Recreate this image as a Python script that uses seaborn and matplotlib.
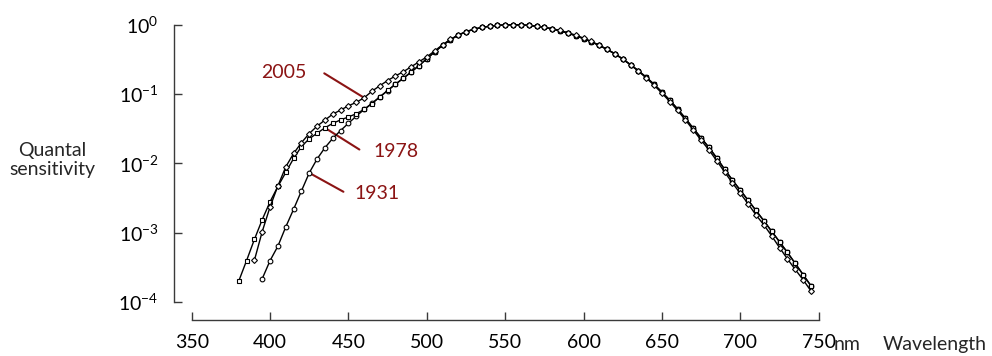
import matplotlib
matplotlib.use("Agg")
import matplotlib.pyplot as plt
import numpy as np
import pandas as pd
import seaborn as sns
from matplotlib.ticker import FixedLocator, NullLocator, FixedFormatter

# ---------------- data ----------------
wl_1931 = list(range(395, 750, 5))
v_1931 = [
    0.000217, 0.000396, 0.00064, 0.00121, 0.00218, 0.004, 0.0073, 0.0116, 0.01684, 0.023,      # 395-440
    0.0298, 0.038, 0.048, 0.06, 0.0739, 0.09098, 0.1126, 0.13902, 0.1693, 0.20802,             # 445-490
    0.2586, 0.323, 0.4073, 0.503, 0.6082, 0.71, 0.7932, 0.862, 0.91485, 0.954,                 # 495-540
    0.9803, 0.99495, 1.0, 0.995, 0.9786, 0.952, 0.9154, 0.87, 0.8163, 0.757,                   # 545-590
    0.6949, 0.631, 0.5668, 0.503, 0.4412, 0.381, 0.321, 0.265, 0.217, 0.175,                   # 595-640
    0.1382, 0.107, 0.0816, 0.061, 0.04458, 0.032, 0.0232, 0.017, 0.01192, 0.00821,             # 645-690
    0.005723, 0.004102, 0.002929, 0.002091, 0.001484, 0.001047, 0.00074, 0.00052, 0.000361, 0.000249,  # 695-740
    0.000172,                                                                                  # 745
]

wl_1978 = list(range(380, 750, 5))
v_1978 = [
    0.0002, 0.00039556, 0.0008, 0.0015457, 0.0028, 0.0046562, 0.0074, 0.011779, 0.0175, 0.022678,   # 380-425
    0.0273, 0.032584, 0.0379, 0.042391, 0.0468, 0.052122, 0.06, 0.072942, 0.09098, 0.11284,          # 430-475
    0.13902, 0.1693, 0.20802, 0.2586, 0.323, 0.4073, 0.503, 0.6082, 0.71, 0.7932,                    # 480-525
    0.862, 0.91485, 0.954, 0.9803, 0.99495, 1.0, 0.995, 0.9786, 0.952, 0.9154,                       # 530-575
    0.87, 0.8163, 0.757, 0.6949, 0.631, 0.5668, 0.503, 0.4412, 0.381, 0.321,                         # 580-625
    0.265, 0.217, 0.175, 0.1382, 0.107, 0.0816, 0.061, 0.04458, 0.032, 0.0232,                       # 630-675
    0.017, 0.01192, 0.00821, 0.005723, 0.004102, 0.002929, 0.002091, 0.001484, 0.001047, 0.00074,    # 680-725
    0.00052, 0.000361, 0.000249, 0.000172,                                                           # 730-745
]

wl_2005 = list(range(390, 750, 5))
v_2005 = [
    0.0004, 0.00104, 0.00236, 0.00475, 0.0089, 0.0139, 0.0199, 0.027, 0.0345, 0.0422,         # 390-435
    0.0514, 0.0588, 0.0678, 0.076, 0.0885, 0.11, 0.132, 0.157, 0.183, 0.21,                   # 440-485
    0.248, 0.292, 0.345, 0.42, 0.515, 0.615, 0.71, 0.795, 0.862, 0.915,                       # 490-535
    0.955, 0.98, 0.995, 1.0, 0.997, 0.983, 0.96, 0.925, 0.88, 0.828,                          # 540-585
    0.77, 0.708, 0.642, 0.575, 0.508, 0.443, 0.38, 0.32, 0.264, 0.214,                        # 590-635
    0.171, 0.134, 0.103, 0.078, 0.058, 0.0423, 0.0303, 0.0216, 0.0156, 0.0109,                # 640-685
    0.0075, 0.0052, 0.0037, 0.0026, 0.0018, 0.0013, 0.0009, 0.00061, 0.00042, 0.000295,       # 690-735
    0.00021, 0.000145,                                                                        # 740-745
]

x_ticks = [350, 400, 450, 500, 550, 600, 650, 700, 750]
x_ticklabels = ["350", "400", "450", "500", "550", "600", "650", "700", "750"]
y_ticks = [1e-4, 1e-3, 1e-2, 1e-1, 1e0]
y_ticklabels = [r"$10^{-4}$", r"$10^{-3}$", r"$10^{-2}$", r"$10^{-1}$", r"$10^{0}$"]

years = ["1931", "1978", "2005"]
markers = {"1931": "o", "1978": "s", "2005": "D"}
marker_sizes = {"1931": 3.4, "1978": 3.2, "2005": 3.0}

df = pd.concat([
    pd.DataFrame({"wavelength": wl_1931, "sensitivity": v_1931, "year": "1931"}),
    pd.DataFrame({"wavelength": wl_1978, "sensitivity": v_1978, "year": "1978"}),
    pd.DataFrame({"wavelength": wl_2005, "sensitivity": v_2005, "year": "2005"}),
], ignore_index=True)

# ---------------- style ----------------
sns.set_style("ticks")
plt.rcParams["font.family"] = ["Lato", "DejaVu Sans"]
plt.rcParams["mathtext.fontset"] = "custom"
plt.rcParams["mathtext.rm"] = "Lato"
plt.rcParams["mathtext.it"] = "Lato:italic"
plt.rcParams["mathtext.bf"] = "Lato:bold"
plt.rcParams["mathtext.default"] = "regular"

FS = 14
RED = "#8b1414"
SPINE = "#3a3a3a"

fig = plt.figure(figsize=(9.92, 3.56), dpi=100)
W, H = 992, 356
px_per_dec = 69.3
top_log = 0.06
ax_left, ax_right = 191.7, 818.7
ax_bottom_px = 302.0
ax_top_px = ax_bottom_px - (4 + top_log) * px_per_dec
ax = fig.add_axes([ax_left / W, (H - ax_bottom_px) / H,
                   (ax_right - ax_left) / W, (ax_bottom_px - ax_top_px) / H])

for yr in years:
    sub = df[df["year"] == yr]
    sns.lineplot(data=sub, x="wavelength", y="sensitivity", ax=ax,
                 color="black", lw=1.0, marker=markers[yr],
                 markersize=marker_sizes[yr], markerfacecolor="white",
                 markeredgecolor="black", markeredgewidth=0.8,
                 legend=False, clip_on=False, zorder=3)

ax.set_yscale("log")
ax.set_xlim(350, 750)
ax.set_ylim(1e-4, 10 ** top_log)

ax.xaxis.set_major_locator(FixedLocator(x_ticks))
ax.xaxis.set_major_formatter(FixedFormatter(x_ticklabels))
ax.xaxis.set_minor_locator(NullLocator())
ax.yaxis.set_major_locator(FixedLocator(y_ticks))
ax.yaxis.set_major_formatter(FixedFormatter(y_ticklabels))
ax.yaxis.set_minor_locator(NullLocator())

off = 18 * 72 / 100
for side in ["top", "right"]:
    ax.spines[side].set_visible(False)
ax.spines["left"].set_position(("outward", off))
ax.spines["bottom"].set_position(("outward", off))
ax.spines["left"].set_bounds(1e-4, 1.0)
ax.spines["bottom"].set_bounds(350, 750)
for side in ["left", "bottom"]:
    ax.spines[side].set_color(SPINE)
    ax.spines[side].set_linewidth(1.0)

ax.tick_params(axis="both", direction="in", length=6, width=1.0, color=SPINE,
               labelsize=FS, labelcolor="black")
ax.tick_params(axis="x", pad=10)
ax.tick_params(axis="y", pad=11)
ax.set_xlabel("")
ax.set_ylabel("")

# "nm" after the 750 tick label
ax.annotate("nm", xy=(750, 0), xycoords=("data", "axes fraction"),
            xytext=(11.0, -34.6), textcoords="offset points",
            ha="left", va="baseline", fontsize=FS, annotation_clip=False)

fig.text(987 / W, (H - 350) / H, "Wavelength", ha="right", va="baseline", fontsize=FS)
fig.text(52 / W, 1 - 160 / H, "Quantal\nsensitivity", ha="center", va="center",
         fontsize=FS, linespacing=1.1, multialignment="center")

# ---------------- annotations ----------------
series = {"1931": (wl_1931, v_1931), "1978": (wl_1978, v_1978), "2005": (wl_2005, v_2005)}
ann = {
    # year: (wavelength anchor, line offset pt, text offset pt)
    "2005": (460, (-28.7, 17.6), (-57.7, 18.1)),
    "1978": (435, (24.8, -15.6), (51.2, -16.8)),
    "1931": (425, (24.6, -13.6), (48.6, -14.5)),
}
for yr, (w, line_off, text_off) in ann.items():
    wl, vals = series[yr]
    pt = (w, vals[wl.index(w)])
    ax.annotate("", xy=pt, xytext=line_off, textcoords="offset points",
                arrowprops=dict(arrowstyle="-", color=RED, lw=1.5,
                                shrinkA=0, shrinkB=0), zorder=2)
    ax.annotate(yr, xy=pt, xytext=text_off, textcoords="offset points",
                ha="center", va="center", color=RED, fontsize=FS)

fig.savefig("out.png", dpi=100)
